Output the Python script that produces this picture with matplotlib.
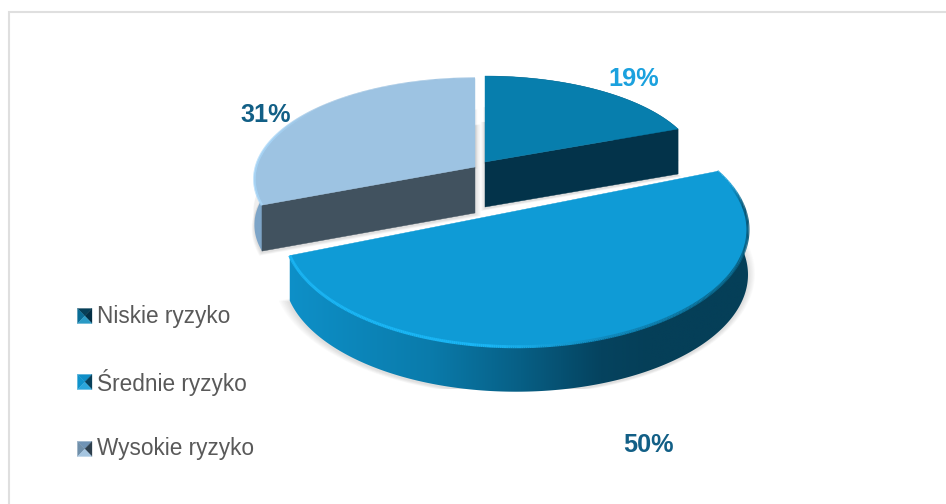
import numpy as np
import matplotlib
matplotlib.use("Agg")
import matplotlib.pyplot as plt
from matplotlib.patches import Polygon, Rectangle
from matplotlib.collections import LineCollection
from matplotlib.colors import to_rgb

categories = ["Niskie ryzyko", "Średnie ryzyko", "Wysokie ryzyko"]
values = [19, 50, 31]

# projection of each exploded slice: cx, cy, rx, ry, perspective, depth
geometry = [
    (485, 162, 213, 92, 0.07, 45),
    (516, 211, 229, 114, 0.16, 45),
    (475, 167, 219, 99, 0.12, 46),
]
top_colors = ["#077EAD", "#0F9BD6", "#9DC3E2"]
cut_colors = ["#03334A", "#03334A", "#41525F"]
label_colors = ["#1BA1DE", "#125F86", "#125F86"]
label_pos = [(634, 79), (648, 445), (266, 115)]
legend_y = [316, 382, 449]
legend_faces = [
    ("#063F58", "#0A6D96", "#032F45", "#2A9AC5"),
    ("#0F8FC8", "#0F93CC", "#07405A", "#2BA7DC"),
    ("#6F93B5", "#6F8FAA", "#2D3F4D", "#A5C5E0"),
]
FONT = "Liberation Sans"

fig = plt.figure(figsize=(9.46, 5.04), dpi=100)
ax = fig.add_axes([0, 0, 1, 1])
ax.set_xlim(0, 946)
ax.set_ylim(504, 0)
ax.axis("off")

# chart frame: only the top and left edges show
ax.plot([9, 9, 946], [504, 12, 12], color="#DFDFDF", lw=1.5, zorder=0,
        solid_joinstyle="miter")


def project(g, t):
    cx, cy, rx, ry, p, _ = g
    u, v = np.sin(t), -np.cos(t)
    s = 1 / (1 - p * v)
    return cx + rx * u * s, cy + ry * v * s


edges = np.radians(np.concatenate([[0], np.cumsum(values)]) / sum(values) * 360)


def mix(c, stops_x, stops_c):
    rgb = np.array([to_rgb(k) for k in stops_c])
    return np.column_stack([np.interp(c, stops_x, rgb[:, i]) for i in range(3)])


def shadow(outline, clip, n=8, spread=9, alpha=0.024):
    ctr = outline.mean(axis=0)
    for i in range(n):
        f = 1 + spread * (i + 1) / n / 230
        pg = Polygon(ctr + (outline - ctr) * f + [0, 1.5], closed=True, fc="#555555",
                     ec="none", alpha=alpha, zorder=1)
        ax.add_patch(pg)
        pg.set_clip_path(clip)


clip_rect = Rectangle((0, 0), 946, 389, transform=ax.transData)
draw_order = [2, 0, 1]

for idx in draw_order:
    g = geometry[idx]
    d = g[5]
    t = np.linspace(edges[idx], edges[idx + 1], 300)
    x, y = project(g, t)
    sh = np.column_stack([np.r_[g[0], x], np.r_[g[1] + d, y + d]])
    shadow(sh, clip_rect)
    if idx != 1:  # back slices also throw shadow into the gap between them
        shadow(np.column_stack([np.r_[g[0], x], np.r_[g[1], y + 30]]), clip_rect, n=4, spread=4)

for idx in draw_order:
    g = geometry[idx]
    d = g[5]
    t = np.linspace(edges[idx], edges[idx + 1], 400)
    x, y = project(g, t)
    z = 3 + draw_order.index(idx)

    # outer wall, shaded along the screen x position
    wall_poly = np.column_stack([np.r_[x, x[::-1]], np.r_[y, (y + d)[::-1]]])
    if idx == 1:
        xs = np.linspace(x.min() - 2, x.max() + 2, 600)
        wall = mix(xs, [288, 430, 520, 600, 650, 750],
                   ["#0E90C8", "#0A7BAB", "#075F85", "#05435F", "#053F58", "#053F58"])
    elif idx == 2:
        xs = np.linspace(x.min() - 2, x.max() + 2, 4)
        wall = mix(xs, [250, 300], ["#7DA5C8", "#7DA5C8"])
    else:
        xs = np.linspace(x.min() - 2, x.max() + 2, 4)
        wall = mix(xs, [485, 680], ["#03334A", "#03334A"])
    im = ax.imshow(wall[np.newaxis, :, :], extent=(xs[0], xs[-1], y.max() + d + 2, y.min() - 2),
                   aspect="auto", interpolation="bilinear", zorder=z)
    clip = Polygon(wall_poly, closed=True, transform=ax.transData)
    im.set_clip_path(clip)

    # visible cut face
    if idx == 0:
        cut = [(g[0], g[1]), (x[-1], y[-1]), (x[-1], y[-1] + d), (g[0], g[1] + d)]
        ax.add_patch(Polygon(cut, closed=True, fc=cut_colors[idx], ec=cut_colors[idx], lw=0.3, zorder=z))
    if idx == 2:
        cut = [(g[0], g[1]), (x[0], y[0]), (x[0], y[0] + d), (g[0], g[1] + d)]
        ax.add_patch(Polygon(cut, closed=True, fc=cut_colors[idx], ec=cut_colors[idx], lw=0.3, zorder=z))

    # top face
    ax.add_patch(Polygon(np.column_stack([np.r_[g[0], x], np.r_[g[1], y]]), closed=True,
                         fc=top_colors[idx], ec=top_colors[idx], lw=0.3, zorder=z + 0.1))

    # bevel along the rim
    segs = np.stack([np.column_stack([x[:-1], y[:-1]]), np.column_stack([x[1:], y[1:]])], axis=1)
    deg = np.degrees(t[:-1])
    if idx == 1:
        rim = mix(deg, [68.4, 76, 88, 130, 160, 185, 205, 248.4],
                  ["#0F9BD6", "#0F9BD6", "#06506E", "#0A6A90", "#0F88BC", "#1AB6F5", "#1AB6F5", "#1AB6F5"])
        ax.add_collection(LineCollection(segs, colors=rim, lw=2.2, zorder=z + 0.2))
    if idx == 2:
        rim = mix(deg, [248.4, 285, 310], ["#A9D8FA", "#A9D8FA", "#9DC3E2"])
        ax.add_collection(LineCollection(segs, colors=rim, lw=1.8, zorder=z + 0.2))

ax.set_xlim(0, 946)
ax.set_ylim(504, 0)

# percentage labels
for v, c, (lx, ly) in zip(values, label_colors, label_pos):
    ax.text(lx, ly, f"{v}%", color=c, fontsize=18.2, fontweight="bold", family=FONT,
            ha="center", va="center", zorder=10)

# legend
for name, yy, (ft, fl, fr, fb) in zip(categories, legend_y, legend_faces):
    x0, x1, y0, y1 = 77.5, 92, yy - 7.5, yy + 7.5
    xc, yc = (x0 + x1) / 2, (y0 + y1) / 2
    for pts, col in [([(x0, y0), (x1, y0), (xc, yc)], ft),
                     ([(x0, y0), (x0, y1), (xc, yc)], fl),
                     ([(x1, y0), (x1, y1), (xc, yc)], fr),
                     ([(x0, y1), (x1, y1), (xc, yc)], fb)]:
        ax.add_patch(Polygon(pts, closed=True, fc=col, ec=col, lw=0.2, zorder=10))
    ax.text(97, yy, name, color="#595959", fontsize=16.3, family=FONT,
            ha="left", va="center", zorder=10)

fig.savefig("out.png", dpi=100, facecolor="white")
